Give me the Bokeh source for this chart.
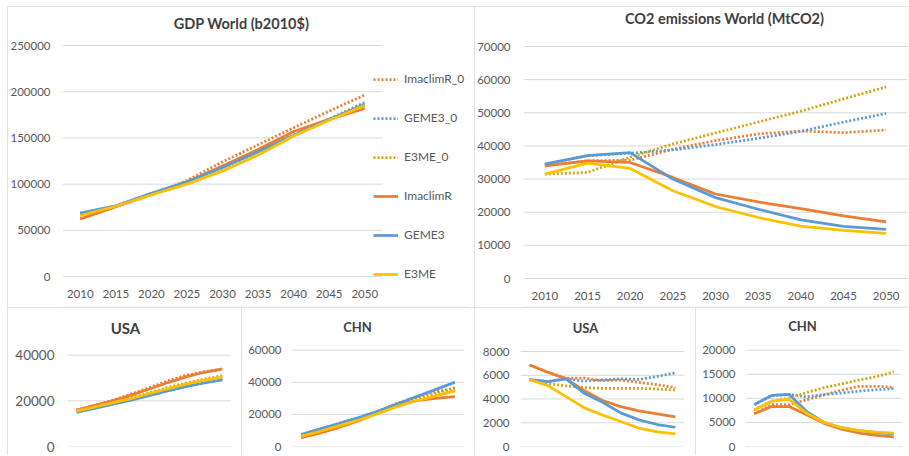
from bokeh.plotting import figure
from bokeh.models import (Range1d, FixedTicker, NumeralTickFormatter, Legend, LegendItem,
                          Spacer, Label)
from bokeh.core.properties import value
from bokeh.layouts import column, row
from bokeh.embed import file_html
from bokeh.resources import INLINE

# ---------------- data ----------------
years = [2010, 2015, 2020, 2025, 2030, 2035, 2040, 2045, 2050]
year_labels = [str(y) for y in years]
series_names = ["ImaclimR_0", "GEME3_0", "E3ME_0", "ImaclimR", "GEME3", "E3ME"]

# GDP World (b2010$)
gdp_world_imaclimr_0 = [62300, 75500, 88500, 104000, 124000, 142500, 161000, 179000, 196500]
gdp_world_geme3_0 = [68500, 76500, 90000, 102000, 118500, 135500, 153000, 170500, 188500]
gdp_world_e3me_0 = [66000, 76000, 88500, 100000, 115000, 132000, 152000, 169500, 187000]
gdp_world_imaclimr = [62300, 75500, 89000, 102500, 119500, 137500, 157000, 170000, 182000]
gdp_world_geme3 = [68500, 76500, 90000, 102500, 118000, 135000, 153000, 170000, 186000]
gdp_world_e3me = [66000, 76000, 88500, 100000, 114000, 131500, 152000, 169000, 185000]
gdp_world_ticks = [0, 50000, 100000, 150000, 200000, 250000]

# CO2 emissions World (MtCO2)
co2_world_imaclimr_0 = [34000, 35500, 35700, 39000, 41600, 43600, 44500, 44000, 44800]
co2_world_geme3_0 = [34500, 37100, 37800, 38800, 40400, 42300, 44400, 47200, 49800]
co2_world_e3me_0 = [31500, 32000, 36600, 40600, 43900, 47200, 50500, 54200, 57800]
co2_world_imaclimr = [34000, 35500, 35000, 30500, 25500, 23100, 21100, 18900, 17100]
co2_world_geme3 = [34500, 37100, 38000, 30000, 24400, 20900, 17700, 15700, 14800]
co2_world_e3me = [31500, 34800, 33200, 26500, 21700, 18400, 15800, 14500, 13600]
co2_world_ticks = [0, 10000, 20000, 30000, 40000, 50000, 60000, 70000]

# GDP USA
gdp_usa_imaclimr_0 = [16000, 18000, 20300, 23000, 25800, 28700, 31200, 32800, 33800]
gdp_usa_geme3_0 = [15000, 16800, 18700, 20500, 22500, 24500, 26400, 28000, 29500]
gdp_usa_e3me_0 = [15500, 17400, 19400, 21300, 23500, 25800, 27800, 29500, 31000]
gdp_usa_imaclimr = [16000, 18000, 20000, 22500, 25200, 28000, 30500, 32500, 34000]
gdp_usa_geme3 = [15000, 16700, 18500, 20300, 22300, 24300, 26200, 27800, 29200]
gdp_usa_e3me = [15500, 17300, 19200, 21000, 23200, 25300, 27300, 29000, 30400]
gdp_usa_ticks = [0, 20000, 40000]

# GDP CHN
gdp_chn_imaclimr_0 = [5500, 8500, 12000, 16500, 22000, 27000, 31000, 34000, 36500]
gdp_chn_geme3_0 = [7500, 11000, 14500, 18000, 22000, 26500, 31000, 35500, 40000]
gdp_chn_e3me_0 = [6500, 9500, 13000, 16800, 21000, 25500, 29500, 33000, 35500]
gdp_chn_imaclimr = [5500, 8500, 12000, 16000, 21000, 25500, 28500, 30000, 31000]
gdp_chn_geme3 = [7500, 11000, 14500, 18000, 22000, 26500, 31000, 35500, 40000]
gdp_chn_e3me = [6500, 9500, 13000, 16500, 20500, 25000, 28500, 31500, 34500]
gdp_chn_ticks = [0, 20000, 40000, 60000]

# CO2 USA
co2_usa_imaclimr_0 = [6870, 6250, 5750, 5750, 5550, 5600, 5400, 5200, 4950]
co2_usa_geme3_0 = [5630, 5460, 5700, 5500, 5600, 5700, 5650, 5900, 6200]
co2_usa_e3me_0 = [5630, 5300, 5100, 4950, 4900, 4900, 4900, 4850, 4750]
co2_usa_imaclimr = [6870, 6250, 5700, 4700, 3870, 3360, 3000, 2750, 2500]
co2_usa_geme3 = [5630, 5460, 5700, 4480, 3730, 2830, 2240, 1850, 1620]
co2_usa_e3me = [5630, 5130, 4200, 3250, 2660, 2100, 1540, 1230, 1070]
co2_usa_ticks = [0, 2000, 4000, 6000, 8000]

# CO2 CHN
co2_chn_imaclimr_0 = [6800, 8700, 8700, 9700, 10700, 11700, 12500, 12500, 12300]
co2_chn_geme3_0 = [8700, 10600, 10800, 10300, 10800, 11100, 11500, 11800, 12000]
co2_chn_e3me_0 = [7600, 9400, 10000, 11200, 12200, 13000, 13800, 14500, 15500]
co2_chn_imaclimr = [6800, 8300, 8300, 6600, 4800, 3600, 2800, 2300, 2000]
co2_chn_geme3 = [8700, 10600, 10800, 7300, 5000, 3900, 3300, 2900, 2600]
co2_chn_e3me = [7600, 9400, 9800, 6900, 5000, 3900, 3300, 3000, 2800]
co2_chn_ticks = [0, 5000, 10000, 15000, 20000]

# ---------------- style ----------------
FONT = "Lato"
LABEL_COLOR = "#595959"
TITLE_COLOR = "#404040"
GRID_COLOR = "#d9d9d9"
colors = ["#ED7D31", "#5B9BD5", "#D4A50C", "#ED7D31", "#5B9BD5", "#FFC000"]
dashes = ["2 2", "2 2", "2 2", "solid", "solid", "solid"]

X_LO = years[0] - 2.5
X_HI = years[-1] + 2.5


def make_panel(title, data, yticks, geo, label_size, title_size, with_legend=False):
    """geo: page-pixel layout of the panel (figure box, frame box, tick pixels, text spots)."""
    fx0, fy0, fw, fh = geo["fig"]
    l, r, t, b = geo["frame"]          # frame edges in page px
    band_r = geo.get("band_r", r)      # px where the 2052.5 category edge falls
    top_px, zero_px = geo["ticks_px"]  # px of top tick and of zero

    x_per_px = (X_HI - X_LO) / (band_r - l)
    x_end = X_LO + (r - l) * x_per_px
    y_per_px = yticks[-1] / (zero_px - top_px)
    y_end = (zero_px - t) * y_per_px
    y_start = -(b - zero_px) * y_per_px

    p = figure(width=fw, height=fh,
               x_range=Range1d(X_LO, x_end), y_range=Range1d(y_start, y_end),
               output_backend="svg", toolbar_location=None,
               min_border_left=l - fx0, min_border_right=fx0 + fw - r,
               min_border_top=t - fy0, min_border_bottom=fy0 + fh - b)
    p.outline_line_color = None
    p.background_fill_color = "white"
    p.border_fill_color = "white"
    p.styles = {"outline": "1px solid #d9d9d9", "outline-offset": "-1px"}
    p.title.visible = False

    p.xgrid.visible = False
    p.ygrid.visible = False
    # horizontal gridlines spanning the category band only
    p.segment(x0=[X_LO] * len(yticks), x1=[X_HI] * len(yticks), y0=yticks, y1=yticks,
              line_color=GRID_COLOR, line_width=1)

    p.yaxis.ticker = FixedTicker(ticks=yticks)
    p.yaxis.formatter = NumeralTickFormatter(format="0")
    p.yaxis.axis_line_color = None
    p.yaxis.major_tick_line_color = None
    p.yaxis.minor_tick_line_color = None
    p.yaxis.major_tick_out = 0
    p.yaxis.major_tick_in = 0
    p.yaxis.minor_tick_out = 0
    p.yaxis.minor_tick_in = 0
    p.yaxis.major_label_text_font = FONT
    p.yaxis.major_label_text_font_size = label_size
    p.yaxis.major_label_text_color = LABEL_COLOR
    p.yaxis.major_label_standoff = geo["y_standoff"]

    p.xaxis.visible = False
    if "xlabel_px" in geo:
        # category labels under the plot area
        y_lab = -(geo["xlabel_px"] - zero_px) * y_per_px
        p.text(x=years, y=[y_lab] * len(years), text=year_labels,
               text_align="center", text_baseline="middle",
               text_font=value(FONT), text_font_size=value(label_size),
               text_color=LABEL_COLOR)

    renderers = []
    for vals, c, d in zip(data, colors, dashes):
        rr = p.line(years, vals, line_color=c, line_width=2.75, line_dash=d,
                    line_join="round")
        renderers.append(rr)

    tx, ty = geo["title_px"]
    p.add_layout(Label(x=tx - l, y=b - ty, x_units="screen", y_units="screen",
                       text=title, text_align="center", text_baseline="middle",
                       text_font=FONT, text_font_size=title_size,
                       text_font_style="bold", text_color=TITLE_COLOR))

    if with_legend:
        lx, ly = geo["legend_px"]      # left edge of glyphs, bottom edge of legend
        items = [LegendItem(label=n, renderers=[rr]) for n, rr in zip(series_names, renderers)]
        lg = Legend(items=items, location=(lx - l, b - ly), orientation="vertical",
                    glyph_width=25, glyph_height=14, label_height=14, spacing=24,
                    padding=0, margin=0, border_line_color=None,
                    background_fill_alpha=0, label_standoff=6,
                    label_text_font=FONT, label_text_font_size="12px",
                    label_text_color=LABEL_COLOR)
        p.add_layout(lg)
    return p


geo_gdp_world = dict(fig=(7, 6, 467, 301), frame=(62, 466, 7, 306), band_r=382,
                     ticks_px=(45, 276), y_standoff=12, xlabel_px=293,
                     title_px=(241, 23), legend_px=(373, 281))
geo_co2_world = dict(fig=(474, 6, 434, 301), frame=(522, 907, 7, 306),
                     ticks_px=(46, 278), y_standoff=13, xlabel_px=295,
                     title_px=(723, 18))
geo_gdp_usa = dict(fig=(7, 307, 234, 148), frame=(67, 231, 308, 447),
                   ticks_px=(355, 447), y_standoff=13, title_px=(125, 328))
geo_gdp_chn = dict(fig=(241, 307, 233, 148), frame=(291, 464, 308, 447),
                   ticks_px=(350, 447), y_standoff=10, title_px=(357, 327))
geo_co2_usa = dict(fig=(474, 307, 221, 148), frame=(520, 684, 308, 446),
                   ticks_px=(351, 446), y_standoff=11, title_px=(585, 327))
geo_co2_chn = dict(fig=(695, 307, 213, 148), frame=(745, 902, 308, 447),
                   ticks_px=(350, 447), y_standoff=10, title_px=(802, 326))

p_gdp_world = make_panel(
    "GDP World (b2010$)",
    [gdp_world_imaclimr_0, gdp_world_geme3_0, gdp_world_e3me_0,
     gdp_world_imaclimr, gdp_world_geme3, gdp_world_e3me],
    gdp_world_ticks, geo_gdp_world, "11.5px", "14.5px", with_legend=True)

p_co2_world = make_panel(
    "CO2 emissions World (MtCO2)",
    [co2_world_imaclimr_0, co2_world_geme3_0, co2_world_e3me_0,
     co2_world_imaclimr, co2_world_geme3, co2_world_e3me],
    co2_world_ticks, geo_co2_world, "11.5px", "14.5px")

p_gdp_usa = make_panel(
    "USA",
    [gdp_usa_imaclimr_0, gdp_usa_geme3_0, gdp_usa_e3me_0,
     gdp_usa_imaclimr, gdp_usa_geme3, gdp_usa_e3me],
    gdp_usa_ticks, geo_gdp_usa, "13.5px", "15px")

p_gdp_chn = make_panel(
    "CHN",
    [gdp_chn_imaclimr_0, gdp_chn_geme3_0, gdp_chn_e3me_0,
     gdp_chn_imaclimr, gdp_chn_geme3, gdp_chn_e3me],
    gdp_chn_ticks, geo_gdp_chn, "11.5px", "13px")

p_co2_usa = make_panel(
    "USA",
    [co2_usa_imaclimr_0, co2_usa_geme3_0, co2_usa_e3me_0,
     co2_usa_imaclimr, co2_usa_geme3, co2_usa_e3me],
    co2_usa_ticks, geo_co2_usa, "11.5px", "13px")

p_co2_chn = make_panel(
    "CHN",
    [co2_chn_imaclimr_0, co2_chn_geme3_0, co2_chn_e3me_0,
     co2_chn_imaclimr, co2_chn_geme3, co2_chn_e3me],
    co2_chn_ticks, geo_co2_chn, "11.5px", "13px")

layout = column(
    Spacer(width=7, height=6),
    row(Spacer(width=7, height=301), p_gdp_world, p_co2_world),
    row(Spacer(width=7, height=148), p_gdp_usa, p_gdp_chn, p_co2_usa, p_co2_chn),
)

open("out.html", "w").write(file_html(layout, INLINE))
